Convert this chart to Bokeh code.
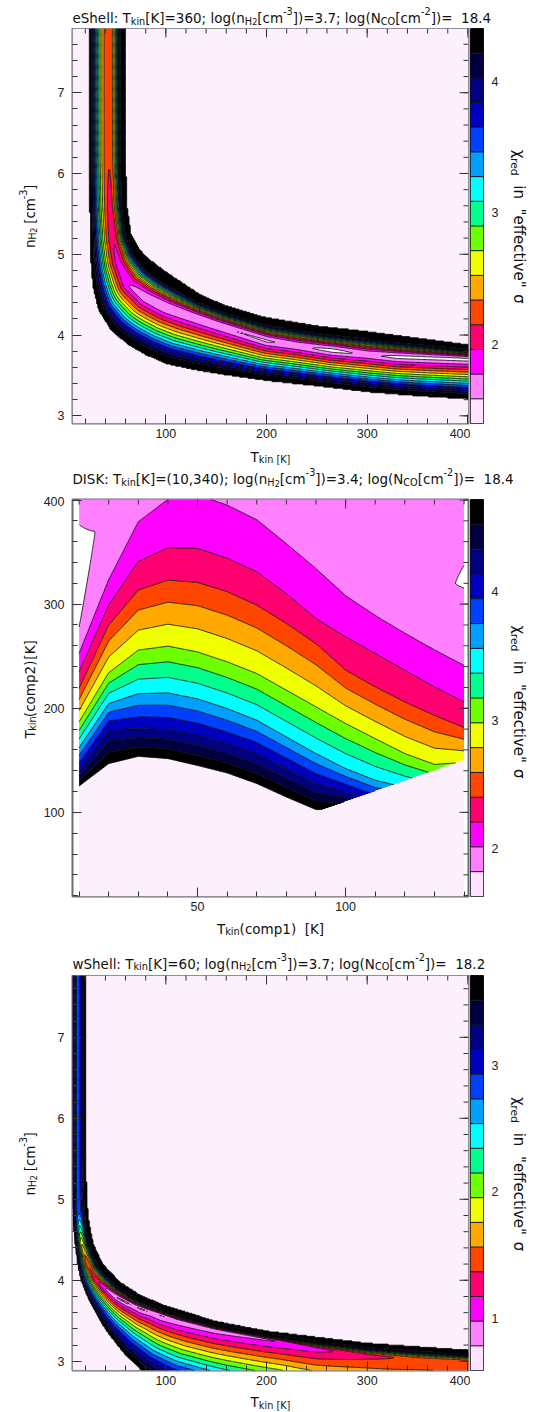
import glob, struct, math
import numpy as np
from bokeh.plotting import figure
from bokeh.layouts import column, row
from bokeh.models import Range1d, Label, SingleIntervalTicker, FixedTicker, LinearAxis
from bokeh.embed import file_html
from bokeh.resources import INLINE

TICK_FONT = "Liberation Sans"
TEXT_FONT = "DejaVu Sans"

# ======================= DATA =======================
band_colors = ["#ffffff", "#ff80ff", "#ff00ff", "#ff0070", "#ff4600", "#ffa800",
               "#f0ff00", "#6eff00", "#00ff8c", "#00ffff", "#00a0ff", "#0040ff",
               "#0000c0", "#000080", "#000040", "#000000"]
cbar_colors = ["#ffe2ff"] + band_colors[1:]
outside_color = "#fdf0fd"

cbar1_range = [1.40, 4.40]
cbar2_range = [1.625, 4.72]
cbar3_range = [0.59, 3.71]
cbar1_ticks = [2, 3, 4]
cbar2_ticks = [2, 3, 4]
cbar3_ticks = [1, 2, 3]

# panel 1 (eShell): valley centre line, chi minimum and profile shape along it, outer edges
p1_center_T = [43.5, 43.5, 44.5, 47, 52, 62, 80, 100, 150, 200, 230, 265, 300, 330, 405]
p1_center_n = [7.95, 6.2, 5.6, 5.2, 4.9, 4.62, 4.45, 4.33, 4.12, 3.92, 3.86, 3.8, 3.75, 3.72, 3.69]
p1_center_chi = [2.17, 2.17, 2.08, 1.98, 1.9, 1.78, 1.65, 1.6, 1.6, 1.57, 1.62, 1.54, 1.62, 1.55, 1.54]
p1_lower_pow = [2.0, 2.0, 1.8, 1.6, 1.5, 1.35, 1.25, 1.2, 1.2, 1.2, 1.2, 1.2, 1.2, 1.2, 1.2]
p1_upper_T = [60, 60.5, 62, 66, 75, 85, 100, 135, 160, 197, 250, 300, 350, 405]
p1_upper_n = [7.95, 6.2, 5.6, 5.25, 5.05, 4.93, 4.79, 4.5, 4.37, 4.23, 4.12, 4.05, 3.97, 3.88]
p1_lower_T = [23.6, 23.6, 24.5, 27, 33, 45, 62, 80, 100, 130, 160, 200, 260, 300, 350, 405]
p1_lower_n = [7.95, 6.0, 5.0, 4.6, 4.3, 4.06, 3.88, 3.75, 3.64, 3.56, 3.5, 3.43, 3.35, 3.29, 3.24, 3.2]

# panel 3 (wShell)
p3_center_T = [12.5, 12.5, 13.0, 16, 22, 30, 42, 52, 61, 68, 76, 86, 96, 110, 150, 200, 250, 300, 350, 405]
p3_center_n = [7.95, 5.5, 4.85, 4.45, 4.2, 4.0, 3.87, 3.78, 3.72, 3.68, 3.64, 3.6, 3.56, 3.5, 3.38, 3.27, 3.15, 3.07, 3.02, 2.99]
p3_center_chi = [2.85, 2.85, 2.8, 1.75, 1.4, 1.25, 0.9, 0.77, 0.76, 0.8, 0.76, 0.8, 0.77, 0.84, 0.88, 0.95, 1.1, 1.3, 1.42, 1.45]
p3_lower_pow = [1.6, 1.6, 1.5, 1.4, 1.3, 1.2, 1.1, 1.1, 1.1, 1.1, 1.1, 1.1, 1.1, 1.1, 1.1, 1.1, 1.1, 1.1, 1.1, 1.1]
p3_upper_T = [21, 21, 22, 24, 28.5, 38, 55, 75, 100, 150, 200, 300, 405]
p3_upper_n = [7.95, 5.6, 5.0, 4.74, 4.45, 4.2, 3.98, 3.82, 3.69, 3.5, 3.38, 3.23, 3.14]
p3_lower_T = [6.8, 6.8, 7.5, 9.3, 12, 15.2, 23.2, 32, 40.1, 50, 60, 75, 100, 150, 200, 250, 300, 405]
p3_lower_n = [7.95, 5.2, 4.75, 4.49, 4.2, 4.0, 3.75, 3.55, 3.38, 3.22, 3.07, 2.89, 2.7, 2.5, 2.35, 2.1, 1.55, 0.0]

# panel 2 (DISK): per T1 column, T2 where chi crosses colour-bar levels 16,13,10,7,4,3,2
p2_T1 = [10, 20, 30, 40, 50, 60, 70, 80, 90, 100, 110, 120, 130, 140]
p2_level_index = [16, 13, 10, 7, 4, 3, 2]
p2_T2_at_level = [
    [125.3, 140.4, 162.2, 186.9, 218.9, 234.9, 252.6],
    [146.8, 179.5, 204.5, 234.0, 279.8, 299.0, 323.0],
    [153.8, 180.5, 214.0, 255.8, 313.5, 341.0, 379.0],
    [151.6, 179.5, 214.7, 259.6, 323.0, 354.0, 400.6],
    [145.0, 174.0, 209.0, 254.0, 320.8, 353.5, 405.0],
    [137.8, 166.0, 199.7, 244.5, 311.9, 344.0, 395.0],
    [127.6, 156.4, 188.5, 233.3, 299.0, 331.0, 381.0],
    [114.7, 142.0, 172.4, 217.3, 281.4, 310.0, 358.0],
    [102.6, 127.6, 156.4, 201.3, 262.0, 286.0, 334.0],
    [103.0, 119.5, 142.0, 185.3, 236.5, 268.6, 308.0],
    [95.0, 110.0, 130.8, 170.8, 220.5, 252.6, 289.0],
    [90.0, 105.0, 124.0, 156.4, 206.0, 236.5, 272.0],
    [85.0, 100.0, 118.0, 146.0, 193.0, 220.5, 256.0],
    [80.0, 95.0, 112.0, 148.0, 181.4, 206.0, 241.0],
]
# chi above the 2.01 crossing (violet plateau, with the white dips at both edges)
p2_top_T2 = [
    [278, 340, 376, 440], [350, 395, 398, 460], [399, 419, 439, 579], [420, 440, 460, 600],
    [425, 445, 465, 605], [415, 435, 455, 595], [401, 421, 441, 581], [378, 398, 418, 558],
    [354, 374, 394, 534], [328, 348, 368, 508], [309, 329, 349, 489], [292, 312, 332, 472],
    [276, 296, 316, 456], [300, 330, 345, 440],
]
p2_top_chi = [
    [1.818, 1.72, 1.818, 1.90], [1.95, 1.90, 1.93, 1.90], [1.96, 1.93, 1.92, 1.90],
    [1.96, 1.93, 1.92, 1.90], [1.96, 1.93, 1.92, 1.90], [1.96, 1.93, 1.92, 1.90],
    [1.96, 1.93, 1.92, 1.90], [1.96, 1.93, 1.92, 1.90], [1.96, 1.93, 1.92, 1.90],
    [1.96, 1.93, 1.92, 1.90], [1.96, 1.93, 1.92, 1.90], [1.96, 1.93, 1.92, 1.90],
    [1.96, 1.93, 1.92, 1.90], [1.87, 1.77, 1.87, 1.90],
]

# axis ranges
xr1, yr1 = (7.3, 400.6), (2.905, 7.795)
xr2, yr2 = (7.77, 141.5), (19.2, 400.5)
xr3, yr3 = (7.3, 400.6), (2.886, 7.763)

# ======================= font metrics for composed texts =====================
def _load_metrics(fname):
    paths = glob.glob("/usr/share/fonts/**/" + fname, recursive=True)
    if not paths:
        return None
    data = open(paths[0], "rb").read()
    nt = struct.unpack(">H", data[4:6])[0]
    tabs = {}
    for i in range(nt):
        tag, cs, off, ln = struct.unpack(">4sIII", data[12 + 16 * i:28 + 16 * i])
        tabs[tag.decode("latin1")] = off
    upem = struct.unpack(">H", data[tabs["head"] + 18:tabs["head"] + 20])[0]
    nhm = struct.unpack(">H", data[tabs["hhea"] + 34:tabs["hhea"] + 36])[0]
    ho = tabs["hmtx"]
    adv = [struct.unpack(">H", data[ho + 4 * i:ho + 4 * i + 2])[0] for i in range(nhm)]
    co = tabs["cmap"]
    n = struct.unpack(">H", data[co + 2:co + 4])[0]
    sub = None
    for i in range(n):
        pid, eid, so = struct.unpack(">HHI", data[co + 4 + 8 * i:co + 12 + 8 * i])
        if pid == 3 and eid == 1:
            sub = co + so
    if sub is None or struct.unpack(">H", data[sub:sub + 2])[0] != 4:
        return None
    segx2 = struct.unpack(">H", data[sub + 6:sub + 8])[0]
    sc = segx2 // 2
    ends = struct.unpack(">%dH" % sc, data[sub + 14:sub + 14 + segx2])
    starts = struct.unpack(">%dH" % sc, data[sub + 16 + segx2:sub + 16 + 2 * segx2])
    deltas = struct.unpack(">%dh" % sc, data[sub + 16 + 2 * segx2:sub + 16 + 3 * segx2])
    roo = sub + 16 + 3 * segx2
    ros = struct.unpack(">%dH" % sc, data[roo:roo + segx2])

    def gid(ch):
        c = ord(ch)
        for i in range(sc):
            if ends[i] >= c:
                if starts[i] > c:
                    return 0
                if ros[i] == 0:
                    return (c + deltas[i]) & 0xFFFF
                a = roo + 2 * i + ros[i] + 2 * (c - starts[i])
                g = struct.unpack(">H", data[a:a + 2])[0]
                return (g + deltas[i]) & 0xFFFF if g else 0
        return 0

    def width(s):
        return sum(adv[min(gid(ch), nhm - 1)] for ch in s) / upem
    return width

try:
    _W = _load_metrics("DejaVuSans.ttf")
except Exception:
    _W = None

def text_w(s, size):
    if _W is None:
        return 0.6 * size * len(s)
    return _W(s) * size

SCALE = {"n": 1.0, "sub": 0.72, "subsub": 0.6, "sup": 0.72}
SHIFT = {"n": 0.0, "sub": -0.24, "subsub": -0.30, "sup": 0.50}

def seg_width(segs, size, extra_space=0.0):
    w = 0.0
    for t, k in segs:
        w += text_w(t, size * SCALE[k]) + extra_space * t.count(" ")
    return w

def rich(p, mapper, segs, px, py, size, angle=0.0, anchor="left", color="#111111",
         extra_space=0.0):
    total = seg_width(segs, size, extra_space)
    dx, dy = math.cos(angle), -math.sin(angle)
    ux, uy = -math.sin(angle), -math.cos(angle)
    if anchor == "center":
        px, py = px - dx * total / 2, py - dy * total / 2
    elif anchor == "right":
        px, py = px - dx * total, py - dy * total
    adv = 0.0
    for t, k in segs:
        sz = size * SCALE[k]
        parts = t.split(" ")
        for ip, part in enumerate(parts):
            if part:
                sx = px + dx * adv + ux * SHIFT[k] * size
                sy = py + dy * adv + uy * SHIFT[k] * size
                x, y = mapper(sx, sy)
                p.add_layout(Label(x=x, y=y, text=part, angle=angle, text_font=TEXT_FONT,
                                   text_font_size="%.2fpx" % sz, text_baseline="alphabetic",
                                   text_align="left", text_color=color))
                adv += text_w(part, sz)
            if ip < len(parts) - 1:
                adv += text_w(" ", sz) + extra_space
    return total

# ======================= field construction ================================
def signed_dist(X, Y, PX, PY):
    ax, ay = PX[:-1], PY[:-1]
    dx, dy = np.diff(PX), np.diff(PY)
    L2 = dx * dx + dy * dy
    vx = X[:, None] - ax[None, :]
    vy = Y[:, None] - ay[None, :]
    t = np.clip((vx * dx + vy * dy) / L2, 0, 1)
    ex, ey = vx - t * dx, vy - t * dy
    d2 = ex * ex + ey * ey
    k = np.argmin(d2, axis=1)
    idx = np.arange(X.size)
    d = np.sqrt(d2[idx, k])
    cr = dx[k] * vy[idx, k] - dy[k] * vx[idx, k]
    return np.where(cr < 0, -d, d), k + t[idx, k]

def valley_field(Tg, ng, cT, cn, cchi, cpow, uT, un, lT, ln, levels, kx, ky, p_up, b_up, b_lo):
    TT, NN = np.meshgrid(Tg, ng)
    X, Y = TT.ravel() * kx, NN.ravel() * ky
    sc, s = signed_dist(X, Y, np.array(cT) * kx, np.array(cn) * ky)
    su, _ = signed_dist(X, Y, np.array(uT) * kx, np.array(un) * ky)
    sl, _ = signed_dist(X, Y, np.array(lT) * kx, np.array(ln) * ky)
    cmin = np.interp(s, np.arange(len(cchi)), cchi)
    p_lo = np.interp(s, np.arange(len(cpow)), cpow)
    up = sc >= 0
    u = np.where(up, sc / np.maximum(sc - su, 1e-9), -sc / np.maximum(sl - sc, 1e-9))
    beyond = np.where(up, su > 0, sl < 0)
    b = np.where(up, b_up, b_lo)
    pw = np.where(up, p_up, p_lo)
    uu = np.clip(u, 0, 1)
    L15, Lt = levels[-2], levels[-1]
    inner = uu <= 1 - b
    chi = np.where(inner, cmin + (L15 - cmin) * (uu / (1 - b)) ** pw,
                   L15 + (Lt - L15) * (uu - (1 - b)) / b)
    chi = np.where(beyond, Lt + 1.0, chi)
    return chi.reshape(NN.shape)

lv1 = np.linspace(cbar1_range[0], cbar1_range[1], 17)
lv2 = np.linspace(cbar2_range[0], cbar2_range[1], 17)
lv3 = np.linspace(cbar3_range[0], cbar3_range[1], 17)

T1g = np.linspace(xr1[0], xr1[1], 330)
n1g = np.linspace(yr1[0], yr1[1], 360)
Z1 = valley_field(T1g, n1g, p1_center_T, p1_center_n, p1_center_chi, p1_lower_pow,
                  p1_upper_T, p1_upper_n, p1_lower_T, p1_lower_n, lv1, 1.007, 80.8, 2.2, 0.35, 0.15)
T3g = np.linspace(xr3[0], xr3[1], 330)
n3g = np.linspace(yr3[0], yr3[1], 360)
Z3 = valley_field(T3g, n3g, p3_center_T, p3_center_n, p3_center_chi, p3_lower_pow,
                  p3_upper_T, p3_upper_n, p3_lower_T, p3_lower_n, lv3, 1.007, 81.0, 2.0, 0.4, 0.1)

# panel 2: crossing positions are interpolated linearly between the T1 columns
T2y = np.linspace(yr2[0], yr2[1], 400)
pos_cols = np.array([[0.0] + a + b for a, b in zip(p2_T2_at_level, p2_top_T2)])
chi_cols = np.array([[8.0] + [lv2[i] for i in p2_level_index] + c for c in p2_top_chi])
T2x = np.linspace(p2_T1[0], p2_T1[-1], 261)
Z2 = np.empty((T2y.size, T2x.size))
for i, t1 in enumerate(T2x):
    j = min(int((t1 - p2_T1[0]) // 10), len(p2_T1) - 2)
    f = (t1 - p2_T1[j]) / (p2_T1[j + 1] - p2_T1[j])
    pos = pos_cols[j] * (1 - f) + pos_cols[j + 1] * f
    chv = chi_cols[j] * (1 - f) + chi_cols[j + 1] * f
    Z2[:, i] = np.interp(T2y, pos, chv)
Z2[T2y[:, None] < T2x[None, :] + 10] = np.nan

# ======================= figures ============================================
YLAB_W, MAIN_W, CB_W, CBL_W = 40, 430, 35, 38
MAIN_BL = 32
FRAME_L, FRAME_W = YLAB_W + MAIN_BL, 396

def make_main(xr, yr, height, top_b, bottom_b, xint, yint):
    p = figure(width=MAIN_W, height=height, x_range=Range1d(*xr), y_range=Range1d(*yr),
               output_backend="svg", toolbar_location=None,
               min_border_left=MAIN_BL, min_border_right=MAIN_W - MAIN_BL - FRAME_W,
               min_border_top=top_b, min_border_bottom=bottom_b)
    p.background_fill_color = "white"
    p.border_fill_color = "white"
    p.outline_line_color = "#6c6c78"
    p.outline_line_width = 2
    p.grid.visible = False
    for ax, iv in ((p.xaxis[0], xint), (p.yaxis[0], yint)):
        ax.ticker = SingleIntervalTicker(interval=iv, num_minor_ticks=5)
        ax.major_tick_in = 9
        ax.major_tick_out = 0
        ax.minor_tick_in = 5
        ax.minor_tick_out = 0
        ax.major_tick_line_color = "#333333"
        ax.minor_tick_line_color = "#333333"
        ax.axis_line_color = None
        ax.major_label_text_font = TICK_FONT
        ax.major_label_text_font_size = "12.5px"
        ax.major_label_text_color = "#222222"
    p.xaxis.major_label_standoff = 5
    p.yaxis.major_label_standoff = 8
    return p

def mirror_ticks(p, xr, yr, xint, yint, fh):
    sx = (xr[1] - xr[0]) / FRAME_W
    sy = (yr[1] - yr[0]) / fh
    for iv, L in ((xint, 9), (xint / 5, 5)):
        xs = np.arange(math.ceil(xr[0] / iv) * iv, xr[1] + 1e-9, iv)
        p.segment(x0=xs, y0=[yr[1]] * len(xs), x1=xs, y1=[yr[1] - L * sy] * len(xs),
                  line_color="#333333", line_width=1)
    for iv, L in ((yint, 9), (yint / 5, 5)):
        ys = np.arange(math.ceil(yr[0] / iv) * iv, yr[1] + 1e-9, iv)
        p.segment(x0=[xr[1]] * len(ys), y0=ys, x1=[xr[1] - L * sx] * len(ys), y1=ys,
                  line_color="#333333", line_width=1)

def make_cbar(levels, ticks, height, top_b, bottom_b):
    p = figure(width=CB_W, height=height, x_range=Range1d(0, 1),
               y_range=Range1d(levels[0], levels[-1]), output_backend="svg",
               toolbar_location=None, x_axis_location=None, y_axis_location=None,
               min_border_left=0, min_border_right=CB_W - 13, min_border_top=top_b,
               min_border_bottom=bottom_b)
    p.grid.visible = False
    p.outline_line_color = "#111111"
    p.outline_line_width = 1
    p.quad(left=0, right=1, bottom=levels[:-1], top=levels[1:], fill_color=cbar_colors,
           line_color=None)
    p.segment(x0=[0] * 15, y0=levels[1:-1], x1=[1] * 15, y1=levels[1:-1],
              line_color="#111111", line_width=1)
    ax = LinearAxis(ticker=FixedTicker(ticks=ticks), major_tick_in=0, major_tick_out=0,
                    minor_tick_in=0, minor_tick_out=0, axis_line_color=None,
                    major_label_standoff=8, major_label_text_font=TICK_FONT,
                    major_label_text_font_size="12.5px", major_label_text_color="#222222")
    p.add_layout(ax, "right")
    return p

def make_text(w, h):
    p = figure(width=w, height=h, x_range=Range1d(0, w), y_range=Range1d(0, h),
               output_backend="svg", toolbar_location=None, x_axis_location=None,
               y_axis_location=None, min_border=0, min_border_left=0, min_border_right=0,
               min_border_top=0, min_border_bottom=0)
    p.grid.visible = False
    p.outline_line_color = None
    p.background_fill_color = None
    p.border_fill_color = None
    return p

def text_mapper(left, top, h):
    return lambda px, py: (px - left, h - (py - top))

def title_segs(name, tk, nh):
    return [(name + ": T", "n"), ("kin", "sub"), ("[K]=" + tk + "; log(n", "n"), ("H", "sub"),
            ("2", "subsub"), ("[cm", "n"), ("-3", "sup"), ("])=" + nh + "; log(N", "n"),
            ("CO", "sub"), ("[cm", "n"), ("-2", "sup"), ("])=", "n")]

t1s = title_segs("eShell", "360", "3.7")
t2s = title_segs("DISK", "(10,340)", "3.4")
t3s = title_segs("wShell", "60", "3.7")
w_unit = seg_width(t1s, 1.0)
TSIZE = 380.0 / w_unit if w_unit > 0 else 12.5
LSIZE = 13.5

ny_segs = [("n", "n"), ("H", "sub"), ("2", "subsub"), (" [cm", "n"), ("-3", "sup"), ("]", "n")]
tk_segs = [("T", "n"), ("kin [K]", "sub")]
cb_segs = [("\u03c7", "n"), ("red", "sub"), (' in "effective" \u03c3', "n")]

def add_title(f, mp, segs, base, num):
    w = rich(f, mp, segs, 72, base, TSIZE)
    rich(f, mp, [(num, "n")], 72 + w + 2 * text_w(" ", TSIZE), base, TSIZE)

def add_xlabel(f, mp, segs, base):
    rich(f, mp, segs, FRAME_L + FRAME_W / 2, base, LSIZE, anchor="center")

def build_row(xr, yr, fig_top, height, top_b, bottom_b, xint, yint, Tg, ng, Z, levels,
              ticks, ysegs, cb_center):
    fh = height - top_b - bottom_b
    ftop = fig_top + top_b
    yl = make_text(YLAB_W, height)
    rich(yl, text_mapper(0, fig_top, height), ysegs, 29, ftop + fh / 2, LSIZE,
         angle=math.pi / 2, anchor="center")
    p = make_main(xr, yr, height, top_b, bottom_b, xint, yint)
    p.quad(left=Tg[0], right=Tg[-1], bottom=ng[0], top=ng[-1], fill_color=outside_color,
           line_color=None)
    p.contour(x=Tg, y=ng, z=Z, levels=levels, fill_color=band_colors, line_color="black",
              line_width=0.8)
    mirror_ticks(p, xr, yr, xint, yint, fh)
    cb = make_cbar(levels, ticks, height, top_b, bottom_b)
    cl = make_text(CBL_W, height)
    left = YLAB_W + MAIN_W + CB_W
    rich(cl, text_mapper(left, fig_top, height), cb_segs, 518, cb_center, 15.0,
         angle=-math.pi / 2, anchor="center", extra_space=6.0)
    return row(yl, p, cb, cl)

# page layout (px): title1 0-28, row1 28-443, mid1 443-496 (x label 1 + title 2),
# row2 496-916, mid2 916-975 (x label 2 + title 3), row3 975-1389, xlab3 1389-1412
top1 = make_text(543, 28)
add_title(top1, text_mapper(0, 0, 28), t1s, 17.3, "18.4")
row1 = build_row(xr1, yr1, 28, 415, 0, 20, 100, 1, T1g, n1g, Z1, lv1, cbar1_ticks, ny_segs, 236)

mid1 = make_text(543, 53)
m1 = text_mapper(0, 443, 53)
add_xlabel(mid1, m1, tk_segs, 456)
add_title(mid1, m1, t2s, 478.5, "18.4")
row2 = build_row(xr2, yr2, 496, 420, 3, 20, 50, 100, T2x, T2y, Z2, lv2, cbar2_ticks,
                 [("T", "n"), ("kin", "sub"), ("(comp2) [K]", "n")], 710)

mid2 = make_text(543, 59)
m2 = text_mapper(0, 916, 59)
add_xlabel(mid2, m2, [("T", "n"), ("kin", "sub"), ("(comp1)  [K]", "n")], 928)
add_title(mid2, m2, t3s, 963, "18.2")
row3 = build_row(xr3, yr3, 975, 414, 0, 19, 100, 1, T3g, n3g, Z3, lv3, cbar3_ticks, ny_segs, 1183)

bot3 = make_text(543, 23)
add_xlabel(bot3, text_mapper(0, 1389, 23), tk_segs, 1401.5)

layout = column(top1, row1, mid1, row2, mid2, row3, bot3)
open("out.html", "w").write(file_html(layout, INLINE))
